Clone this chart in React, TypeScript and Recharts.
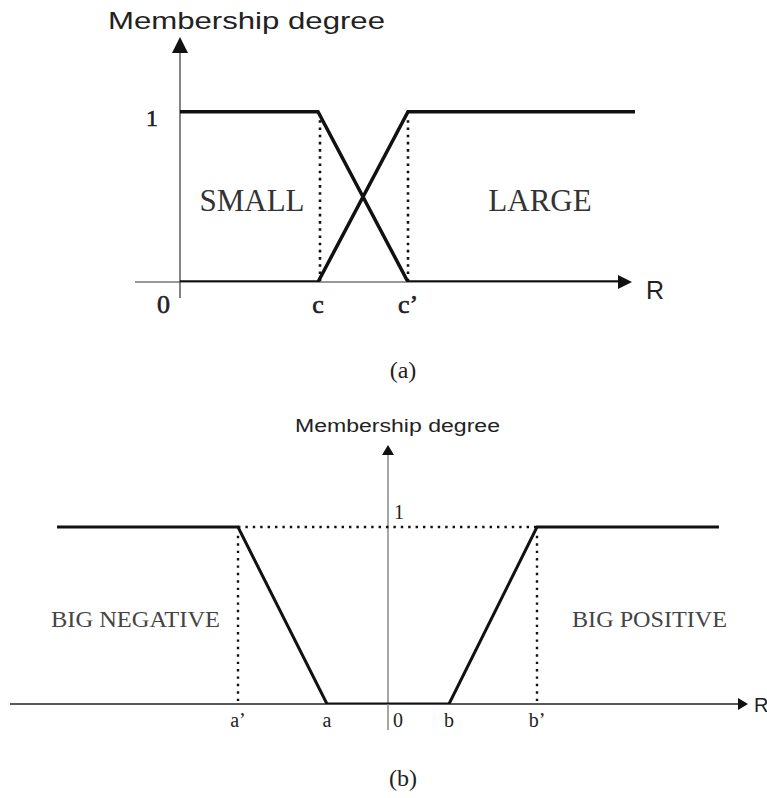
import { LineChart, Line, XAxis, YAxis, ReferenceLine, ReferenceDot } from 'recharts'

// (a) SMALL / LARGE membership functions
const aPointsX = [0, 1.38, 2.28, 4.55]
const smallY = [1, 1, 0, 0]
const largeY = [0, 0, 1, 1]
const aTicks = [0, 1.38, 2.28]
const aTickLabels = ['0', 'c', 'c’']

// (b) BIG NEGATIVE / BIG POSITIVE membership functions
const negX = [-3.31, -1.5, -0.61, 0]
const negY = [1, 1, 0, 0]
const posX = [0, 0.61, 1.49, 3.31]
const posY = [0, 0, 1, 1]
const bTicks = [-1.5, -0.61, 0, 0.61, 1.49]
const bTickLabels = ['a’', 'a', '0', 'b', 'b’']

const toRows = (xs: number[], ys: number[]) => xs.map((x, i) => ({ x, y: ys[i] }))

const SERIF = '"Liberation Serif", "Times New Roman", serif'
const SANS = '"Liberation Sans", Arial, sans-serif'
const INK = '#111'

function Tick(props: any) {
  const { x, y, payload, ticks, labels, size, dy, zeroDx, zeroAnchor, heavy } = props
  const i = ticks.indexOf(payload.value)
  const isZero = payload.value === 0
  return (
    <text
      x={x + (isZero ? zeroDx : 0)}
      y={y + dy}
      textAnchor={isZero ? zeroAnchor : 'middle'}
      fontFamily={SERIF}
      fontSize={size}
      fill="#222"
      stroke={heavy ? '#222' : 'none'}
      strokeWidth={heavy ? 0.6 : 0}
    >
      {labels[i]}
    </text>
  )
}

const arrowRight = (h: number, w: number) => (p: any) => (
  <polygon points={`${p.cx},${p.cy} ${p.cx - h},${p.cy - w} ${p.cx - h},${p.cy + w}`} fill={INK} />
)
const arrowUp = (h: number, w: number) => (p: any) => (
  <polygon points={`${p.cx},${p.cy} ${p.cx - w},${p.cy + h} ${p.cx + w},${p.cy + h}`} fill={INK} />
)

const guide = (data: { x: number; y: number }[], w: number, dash: string) => (
  <Line
    data={data}
    dataKey="y"
    type="linear"
    stroke={INK}
    strokeWidth={w}
    strokeDasharray={dash}
    dot={false}
    activeDot={false}
    isAnimationActive={false}
  />
)

function ChartA() {
  return (
    <LineChart width={767} height={400} margin={{ top: 35.1, right: 0, bottom: 88, left: 0 }}>
      <XAxis
        dataKey="x"
        type="number"
        domain={[-1.8, 5.87]}
        allowDataOverflow
        ticks={aTicks}
        interval={0}
        axisLine={false}
        tickLine={false}
        tickSize={0}
        tickMargin={0}
        height={30}
        tick={(p: any) => (
          <Tick {...p} ticks={aTicks} labels={aTickLabels} size={26} dy={31} zeroDx={-10} zeroAnchor="end" heavy />
        )}
      />
      <YAxis hide type="number" domain={[0, 1.45]} allowDataOverflow />

      <ReferenceLine segment={[{ x: -0.45, y: 0 }, { x: 4.4, y: 0 }]} stroke="#333" strokeWidth={1.2} ifOverflow="visible" />
      <ReferenceLine segment={[{ x: 0, y: -0.094 }, { x: 0, y: 1.35 }]} stroke="#333" strokeWidth={1.2} ifOverflow="visible" />
      <ReferenceDot x={4.52} y={0} r={0} ifOverflow="visible" shape={arrowRight(14, 7)} />
      <ReferenceDot x={0} y={1.439} r={0} ifOverflow="visible" shape={arrowUp(16, 8)} />

      {guide(toRows([aPointsX[1] + 0.02, aPointsX[1] + 0.02], [0.95, 0]), 2.6, '2.6 4.6')}
      {guide(toRows([aPointsX[2], aPointsX[2]], [0.95, 0]), 2.6, '2.6 4.6')}

      <Line data={toRows(aPointsX.slice(0, 3).concat([4.4]), smallY)} dataKey="y" type="linear" stroke={INK} strokeWidth={3.5} dot={false} isAnimationActive={false} />
      <Line data={toRows(aPointsX, largeY)} dataKey="y" type="linear" stroke={INK} strokeWidth={3.5} dot={false} isAnimationActive={false} />

      <text x={108} y={29} fontFamily={SANS} fontSize={24} textLength={277} lengthAdjust="spacingAndGlyphs" fill="#222">Membership degree</text>
      <text x={152} y={126} textAnchor="middle" fontFamily={SERIF} fontSize={24} fill="#222" stroke="#222" strokeWidth={0.6}>1</text>
      <text x={252} y={210.5} textAnchor="middle" fontFamily={SERIF} fontSize={31} fill="#333">SMALL</text>
      <text x={540} y={210.5} textAnchor="middle" fontFamily={SERIF} fontSize={31} fill="#333">LARGE</text>
      <text x={655} y={299} textAnchor="middle" fontFamily={SANS} fontSize={25} fill="#222">R</text>
      <text x={403} y={378} textAnchor="middle" fontFamily={SERIF} fontSize={24} fill="#222">(a)</text>
    </LineChart>
  )
}

function ChartB() {
  return (
    <LineChart width={767} height={398} margin={{ top: 38.5, right: 0, bottom: 64, left: 0 }}>
      <XAxis
        dataKey="x"
        type="number"
        domain={[-3.88, 3.79]}
        allowDataOverflow
        ticks={bTicks}
        interval={0}
        axisLine={false}
        tickLine={false}
        tickSize={0}
        tickMargin={0}
        height={30}
        tick={(p: any) => (
          <Tick {...p} ticks={bTicks} labels={bTickLabels} size={20} dy={23} zeroDx={5} zeroAnchor="start" />
        )}
      />
      <YAxis hide type="number" domain={[0, 1.5]} allowDataOverflow />

      <ReferenceLine segment={[{ x: -3.78, y: 0 }, { x: 3.55, y: 0 }]} stroke="#222" strokeWidth={1.6} ifOverflow="visible" />
      <ReferenceLine segment={[{ x: 0, y: -0.147 }, { x: 0, y: 1.42 }]} stroke="#888" strokeWidth={1.5} ifOverflow="visible" />
      <ReferenceDot x={3.6} y={0} r={0} ifOverflow="visible" shape={arrowRight(10, 6)} />
      <ReferenceDot x={0} y={1.463} r={0} ifOverflow="visible" shape={arrowUp(10, 6)} />

      {guide(toRows([negX[1], posX[2]], [1, 1]), 2.4, '2.4 5')}
      {guide(toRows([negX[1], negX[1]], [0.95, 0]), 2.4, '2.4 5')}
      {guide(toRows([posX[2], posX[2]], [0.95, 0]), 2.4, '2.4 5')}

      <Line data={toRows(negX, negY)} dataKey="y" type="linear" stroke={INK} strokeWidth={3} dot={false} isAnimationActive={false} />
      <Line data={toRows(posX, posY)} dataKey="y" type="linear" stroke={INK} strokeWidth={3} dot={false} isAnimationActive={false} />

      <text x={295} y={32} fontFamily={SANS} fontSize={18} textLength={205} lengthAdjust="spacingAndGlyphs" fill="#222">Membership degree</text>
      <text x={399} y={119} textAnchor="middle" fontFamily={SERIF} fontSize={20} fill="#222">1</text>
      <text x={51} y={226.5} fontFamily={SERIF} fontSize={24} textLength={169} lengthAdjust="spacingAndGlyphs" fill="#444">BIG NEGATIVE</text>
      <text x={572} y={226.5} fontFamily={SERIF} fontSize={24} textLength={155} lengthAdjust="spacingAndGlyphs" fill="#444">BIG POSITIVE</text>
      <text x={754} y={312} fontFamily={SANS} fontSize={20} fill="#222">R</text>
      <text x={403} y={386} textAnchor="middle" fontFamily={SERIF} fontSize={24} fill="#222">(b)</text>
    </LineChart>
  )
}

export default function App() {
  return (
    <div style={{ position: 'absolute', left: 0, top: 0, width: 767, height: 798, background: '#fff' }}>
      <div style={{ position: 'absolute', left: 0, top: 0 }}>
        <ChartA />
      </div>
      <div style={{ position: 'absolute', left: 0, top: 400 }}>
        <ChartB />
      </div>
    </div>
  )
}
